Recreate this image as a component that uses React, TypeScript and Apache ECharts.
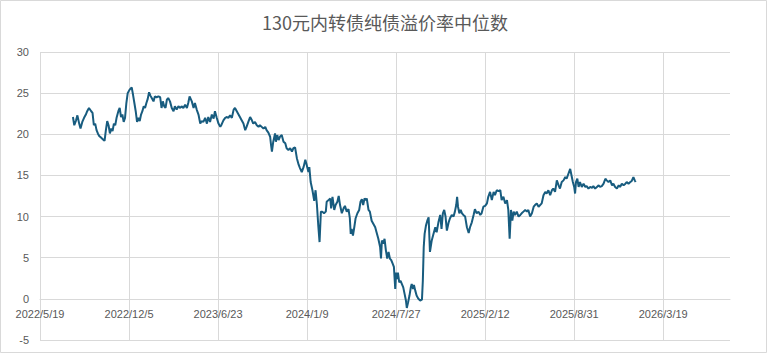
import React, { useEffect, useRef } from 'react';
import * as echarts from 'echarts';

const chartTitle = '130元内转债纯债溢价率中位数';

// Excel date serial numbers (days since 1899-12-30)
const dateSerials = [
  44774, 44777, 44781, 44784, 44788, 44791, 44795, 44799, 44803, 44806,
  44810, 44815, 44818, 44821, 44824, 44827, 44830, 44833, 44837, 44841,
  44845, 44848, 44851, 44854, 44857, 44860, 44863, 44866, 44869, 44872,
  44876, 44879, 44882, 44885, 44888, 44891, 44894, 44897, 44901, 44906,
  44909, 44912, 44915, 44918, 44921, 44924, 44927, 44930, 44933, 44936,
  44939, 44942, 44945, 44948, 44951, 44955, 44958, 44962, 44966, 44970,
  44973, 44976, 44979, 44982, 44985, 44988, 44992, 44996, 45000, 45003,
  45007, 45011, 45015, 45018, 45022, 45026, 45030, 45033, 45036,
  45041, 45045, 45048, 45052, 45056, 45060, 45063, 45067, 45071, 45075,
  45078, 45082, 45086, 45090, 45093, 45097, 45101, 45105, 45108, 45112,
  45116, 45120, 45123, 45127, 45131, 45135, 45138, 45142, 45146, 45150,
  45153, 45157, 45161, 45164, 45168, 45172, 45176, 45179, 45183, 45187,
  45191, 45194, 45198, 45202, 45206, 45209, 45213, 45217, 45219, 45221,
  45224, 45228, 45230, 45233, 45236, 45239, 45243, 45247, 45251, 45254,
  45258, 45262, 45266, 45269, 45273, 45277, 45281, 45284, 45288, 45292,
  45296, 45299, 45303, 45305, 45308, 45312, 45316, 45319, 45322, 45325,
  45328,
  45331, 45334, 45338, 45342, 45344, 45348, 45352, 45354, 45357, 45361,
  45364, 45368, 45371, 45374, 45378, 45382, 45385, 45389, 45393, 45396,
  45398, 45400, 45403, 45406, 45409, 45413, 45417, 45420, 45423, 45426,
  45429, 45432, 45434, 45438, 45441, 45445, 45449, 45453, 45456, 45460,
  45464, 45466, 45468, 45471, 45474, 45477, 45480, 45483, 45486, 45489,
  45492, 45495, 45498, 45500, 45502, 45504, 45507, 45510, 45513, 45516,
  45519, 45522, 45524, 45527, 45530, 45533, 45535, 45538, 45540, 45543,
  45546, 45550, 45554, 45558, 45560, 45562, 45564, 45567, 45570, 45573,
  45576, 45580, 45584, 45588, 45591, 45595, 45599, 45602, 45605, 45608,
  45611, 45614, 45618, 45621, 45625, 45629, 45632, 45635, 45637, 45639,
  45642, 45645, 45648, 45651, 45655, 45659, 45663, 45666, 45670, 45674,
  45677, 45681, 45685, 45689, 45692, 45696, 45700, 45704, 45707, 45711,
  45715, 45719, 45722, 45726, 45730, 45734, 45737, 45741, 45745, 45749,
  45752, 45755, 45758, 45761, 45764, 45767, 45771, 45775, 45779, 45782,
  45786, 45790, 45794, 45797, 45801, 45805, 45809, 45812, 45816, 45820,
  45827, 45831, 45835, 45838, 45842, 45846, 45850, 45853, 45857, 45861,
  45865, 45868, 45872, 45876, 45880, 45883, 45887, 45891, 45894, 45897,
  45900, 45902, 45904, 45907, 45910, 45913, 45917, 45921, 45925, 45928,
  45932, 45936, 45940, 45943, 45947, 45951, 45955, 45958, 45962, 45966,
  45970, 45973, 45977, 45981, 45985, 45988, 45992, 45996, 46000, 46003,
  46007, 46011, 46015, 46018, 46022, 46026, 46029, 46033, 46036, 46038,
];

const premiumValues = [
  22.1, 21.1, 21.7, 22.3, 21.3, 20.7, 21.5, 22.0, 22.4, 22.8,
  23.2, 22.8, 22.6, 21.1, 21.3, 20.5, 20.1, 19.8, 19.6, 19.4,
  19.2, 20.5, 21.6, 21.1, 20.1, 20.7, 20.4, 21.3, 21.1, 22.0,
  22.8, 23.2, 22.1, 22.4, 21.5, 22.0, 23.8, 25.0, 25.4, 25.7,
  24.8, 23.8, 22.8, 21.5, 22.0, 21.6, 22.4, 22.8, 23.4, 23.2,
  23.8, 24.3, 25.1, 24.7, 24.4, 24.0, 24.6, 24.5, 24.6, 24.5,
  23.2, 24.0, 23.4, 23.2, 24.2, 24.4, 24.0, 23.2, 22.8, 23.4,
  23.0, 23.4, 23.2, 23.4, 23.2, 23.6, 23.2, 23.8, 24.6,
  24.0, 23.2, 23.8, 23.0, 22.4, 21.3, 21.6, 21.5, 22.0, 21.3,
  22.1, 21.5, 22.4, 21.9, 22.8, 22.0, 21.3, 20.9, 21.2, 21.7,
  22.0, 22.1, 22.0, 22.3, 22.0, 23.0, 23.2, 22.8, 22.4, 22.0,
  21.7, 21.3, 20.5, 20.9, 21.5, 22.1, 21.7, 21.3, 21.5, 21.1,
  20.9, 21.1, 20.9, 20.7, 20.9, 20.5, 20.2, 19.7, 18.7, 17.9,
  19.1, 20.1, 19.1, 19.9, 19.3, 19.7, 19.9, 19.1, 18.9, 18.3,
  18.1, 18.3, 17.9, 18.3, 18.4, 17.1, 16.3, 15.9, 15.4, 16.0,
  16.9, 16.3, 15.4, 16.0, 14.2, 13.2, 11.9, 13.2, 11.5, 9.0,
  6.9,
  10.6, 10.6, 10.4, 10.6, 11.8, 12.0, 12.2, 11.0, 12.4, 10.8,
  11.4, 11.8, 12.5, 11.4, 10.4, 11.0, 11.3, 10.6, 10.9, 9.8,
  7.9, 8.5, 7.7, 8.7, 9.8, 10.4, 10.8, 11.8, 12.1, 11.4,
  12.2, 12.0, 12.2, 10.8, 10.6, 9.5, 9.1, 8.7, 8.1, 7.3,
  6.3, 4.9, 7.1, 6.7, 7.3, 5.9, 4.9, 5.7, 4.9, 4.7,
  4.3, 3.9, 1.2, 3.2, 2.4, 3.2, 2.0, 2.2, 1.8, 1.4,
  0.6, -0.2, -1.1, -0.4, 0.4, 1.4, 1.8, 1.2, 1.7, 1.0,
  0.4, 0.0, -0.2, -0.1, 2.2, 6.3, 7.9, 8.9, 9.5, 9.9,
  5.7, 7.1, 7.9, 8.7, 8.1, 9.3, 10.2, 8.5, 10.4, 10.8,
  10.0, 8.3, 9.3, 9.8, 10.2, 10.0, 10.6, 11.4, 12.4, 11.2,
  10.4, 10.8, 10.4, 10.2, 10.0, 8.7, 8.0, 8.7, 9.3, 10.2,
  10.9, 10.4, 10.6, 10.2, 10.4, 11.2, 11.3, 11.6, 12.4, 13.0,
  12.0, 13.0, 12.6, 13.2, 13.1, 13.2, 12.0, 12.4, 11.6, 12.0,
  10.8, 7.3, 10.8, 9.5, 10.6, 10.2, 10.6, 10.0, 10.2, 10.4,
  10.6, 10.8, 10.6, 10.8, 10.0, 10.4, 11.2, 11.4, 11.6, 11.2,
  11.6, 12.6, 13.0, 12.8, 13.2, 12.6, 13.2, 13.4, 13.0, 14.4,
  13.8, 13.4, 14.2, 14.4, 14.8, 14.6, 15.2, 15.8, 15.0, 14.2,
  13.6, 12.8, 14.2, 14.6, 13.6, 14.2, 13.6, 14.0, 13.6, 13.7,
  13.4, 13.6, 13.5, 13.7, 13.4, 13.6, 13.8, 13.6, 13.7, 14.0,
  14.6, 14.4, 14.2, 14.4, 13.8, 14.0, 13.6, 13.4, 13.8, 13.6,
  14.0, 13.8, 14.0, 14.2, 14.0, 14.2, 14.3, 14.8, 14.4, 14.2,
];

const xMin = 44700;
const xMax = 46250;
const xStep = 200;
const yMin = -5;
const yMax = 30;
const yStep = 5;

function serialToLabel(s: number): string {
  const d = new Date(Date.UTC(1899, 11, 30) + Math.round(s) * 86400000);
  return `${d.getUTCFullYear()}/${d.getUTCMonth() + 1}/${d.getUTCDate()}`;
}

const GRID_TOP = 52;
const GRID_BOTTOM = 16;
const CHART_H = 356;

export default function App() {
  const ref = useRef<HTMLDivElement>(null);

  useEffect(() => {
    if (!ref.current) return;
    const chart = echarts.init(ref.current, null, { renderer: 'svg' });
    const seriesData = dateSerials.map((d, i) => [d, premiumValues[i]]);
    const gridColor = '#d9d9d9';
    const nTicks = Math.floor((xMax - xMin) / xStep) + 1;
    const vColors: string[] = [];
    for (let i = 0; i < nTicks; i++) vColors.push(gridColor);
    vColors.push('rgba(0,0,0,0)');
    const plotH = CHART_H - GRID_TOP - GRID_BOTTOM;
    const zeroOffset = -((0 - yMin) / (yMax - yMin)) * plotH;
    const labelFont = {
      color: '#595959',
      fontSize: 11,
      fontFamily: '"Liberation Sans", Arial, sans-serif',
    };
    chart.setOption({
      animation: false,
      backgroundColor: '#ffffff',
      title: {
        text: chartTitle,
        left: 'center',
        top: 8,
        textStyle: {
          color: '#595959',
          fontSize: 18,
          fontWeight: 'normal',
          fontFamily: '"Noto Sans CJK SC", sans-serif',
        },
      },
      graphic: [
        {
          type: 'rect',
          shape: { x: 0.5, y: 0.5, width: 766, height: 352 },
          style: { fill: 'none', stroke: '#d9d9d9', lineWidth: 1 },
          silent: true,
          z: -1,
        },
      ],
      grid: { left: 40, right: 40, top: GRID_TOP, bottom: GRID_BOTTOM, containLabel: false },
      xAxis: {
        type: 'value',
        min: xMin,
        max: xMax,
        interval: xStep,
        position: 'bottom',
        offset: zeroOffset,
        axisLine: { show: true, onZero: false, lineStyle: { color: gridColor, width: 1 } },
        axisTick: { show: false },
        axisLabel: {
          ...labelFont,
          margin: 10,
          showMaxLabel: false,
          formatter: (v: number) => serialToLabel(v),
        },
        splitLine: { show: true, lineStyle: { color: vColors, width: 1 } },
      },
      yAxis: {
        type: 'value',
        min: yMin,
        max: yMax,
        interval: yStep,
        axisLine: { show: false },
        axisTick: { show: false },
        axisLabel: { ...labelFont, margin: 11 },
        splitLine: { show: true, lineStyle: { color: gridColor, width: 1 } },
      },
      series: [
        {
          type: 'line',
          data: seriesData,
          showSymbol: false,
          symbol: 'none',
          lineStyle: { color: '#185c7f', width: 2 },
          itemStyle: { color: '#185c7f' },
        },
      ],
    });
    return () => chart.dispose();
  }, []);

  return (
    <div
      ref={ref}
      style={{ position: 'absolute', left: 0, top: 0, width: 770, height: 356 }}
    />
  );
}
